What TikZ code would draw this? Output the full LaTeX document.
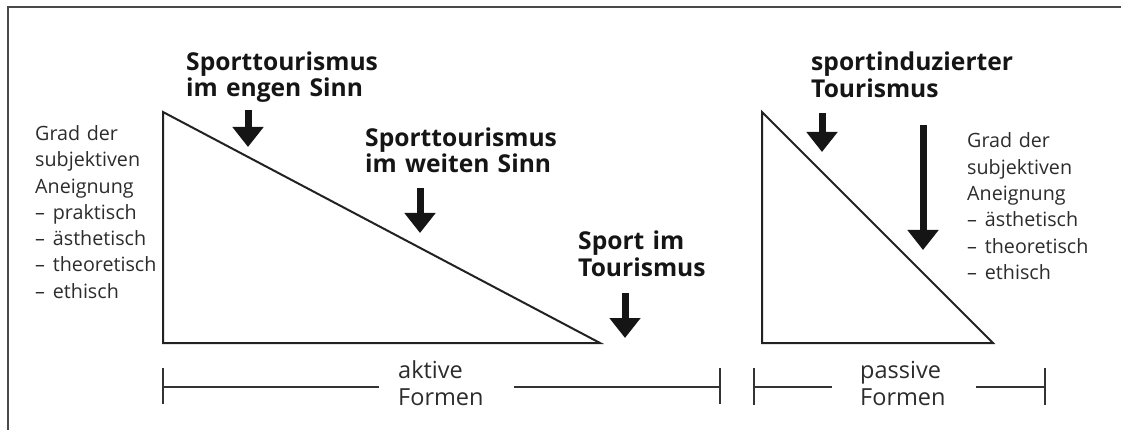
\documentclass[tikz,border=0pt]{standalone}
\usepackage{fontspec}
\setmainfont{Open Sans}
\usetikzlibrary{arrows.meta}
\definecolor{txtgray}{HTML}{2C2C2C}
\definecolor{boldc}{HTML}{151515}
\definecolor{linec}{HTML}{222222}
\definecolor{bracketc}{HTML}{333333}
\definecolor{framec}{HTML}{4A4A4A}
\newcommand{\dsh}{–\hspace{0.4em}}
\begin{document}
\begin{tikzpicture}[x=1pt,y=-1pt,
  tri/.style={draw=linec, line width=2pt, line join=miter},
  bigarrow/.style={draw=boldc, line width=7pt, -{Triangle[width=30pt,length=20pt]}},
  boldlbl/.style={anchor=base west, inner sep=0pt, text width=300pt, align=left,
    font=\fontsize{24.6}{26.5}\selectfont\bfseries, text=boldc},
  graylbl/.style={anchor=base west, inner sep=0pt, text width=200pt, align=left,
    font=\fontsize{19.7}{26.3}\selectfont, text=txtgray},
  formlbl/.style={anchor=base west, inner sep=0pt, text width=200pt, align=left,
    font=\fontsize{23.5}{27}\selectfont, text=txtgray},
  bracket/.style={draw=bracketc, line width=2pt},
  framel/.style={draw=framec, line width=2.5pt}
]
\useasboundingbox (0,0) rectangle (1121,430);
% frame
\coordinate (fbl) at (8,431);
\coordinate (ftl) at (8,7);
\coordinate (ftr) at (1122,7);
\draw[framel] (fbl) -- (ftl) -- (ftr);

% left triangle
\coordinate (t1a) at (163,112);
\coordinate (t1b) at (163,343);
\coordinate (t1c) at (600,343);
\draw[tri] (t1a) -- (t1b) -- (t1c) -- cycle;

% right triangle
\coordinate (t2a) at (762,112);
\coordinate (t2b) at (762,343);
\coordinate (t2c) at (993,343);
\draw[tri] (t2a) -- (t2b) -- (t2c) -- cycle;

% bold labels
\node[boldlbl] (lbl1) at (186,70.5) {Sporttourismus\\im engen Sinn};
\node[boldlbl] (lbl2) at (365,146.5) {Sporttourismus\\im weiten Sinn};
\node[boldlbl] (lbl3) at (578,250) {Sport im\\Tourismus};
\node[boldlbl] (lbl4) at (811,71) {sportinduzierter\\Tourismus};

% arrows
\coordinate (a1s) at (248,110); \coordinate (a1e) at (248,147);
\coordinate (a2s) at (420,188); \coordinate (a2e) at (420,233);
\coordinate (a3s) at (625,293); \coordinate (a3e) at (625,338);
\coordinate (a4s) at (822,113); \coordinate (a4e) at (822,152);
\coordinate (a5s) at (923,125); \coordinate (a5e) at (923,250);
\draw[bigarrow] (a1s) -- (a1e);
\draw[bigarrow] (a2s) -- (a2e);
\draw[bigarrow] (a3s) -- (a3e);
\draw[bigarrow] (a4s) -- (a4e);
\draw[bigarrow] (a5s) -- (a5e);

% gray labels
\node[graylbl] (gl) at (35,140.5) {Grad der\\subjektiven\\Aneignung\\\dsh praktisch\\\dsh ästhetisch\\\dsh theoretisch\\\dsh ethisch};
\node[graylbl] (gr) at (967,148) {Grad der\\subjektiven\\Aneignung\\\dsh ästhetisch\\\dsh theoretisch\\\dsh ethisch};

% brackets
\node[formlbl] (akt) at (398,378) {aktive\\Formen};
\node[formlbl] (pas) at (860,378) {passive\\Formen};
\coordinate (b1l) at (163,387); \coordinate (b1lt) at (163,368); \coordinate (b1lb) at (163,404);
\coordinate (b1m) at (379,387); \coordinate (b1n) at (514,387);
\coordinate (b1r) at (720,387); \coordinate (b1rt) at (720,368); \coordinate (b1rb) at (720,404);
\draw[bracket] (b1lt) -- (b1lb);
\draw[bracket] (b1l) -- (b1m);
\draw[bracket] (b1n) -- (b1r);
\draw[bracket] (b1rt) -- (b1rb);
\coordinate (b2l) at (754,387); \coordinate (b2lt) at (754,368); \coordinate (b2lb) at (754,405);
\coordinate (b2m) at (832,387); \coordinate (b2n) at (976,387);
\coordinate (b2r) at (1045,387); \coordinate (b2rt) at (1045,368); \coordinate (b2rb) at (1045,405);
\draw[bracket] (b2lt) -- (b2lb);
\draw[bracket] (b2l) -- (b2m);
\draw[bracket] (b2n) -- (b2r);
\draw[bracket] (b2rt) -- (b2rb);
\end{tikzpicture}
\end{document}
